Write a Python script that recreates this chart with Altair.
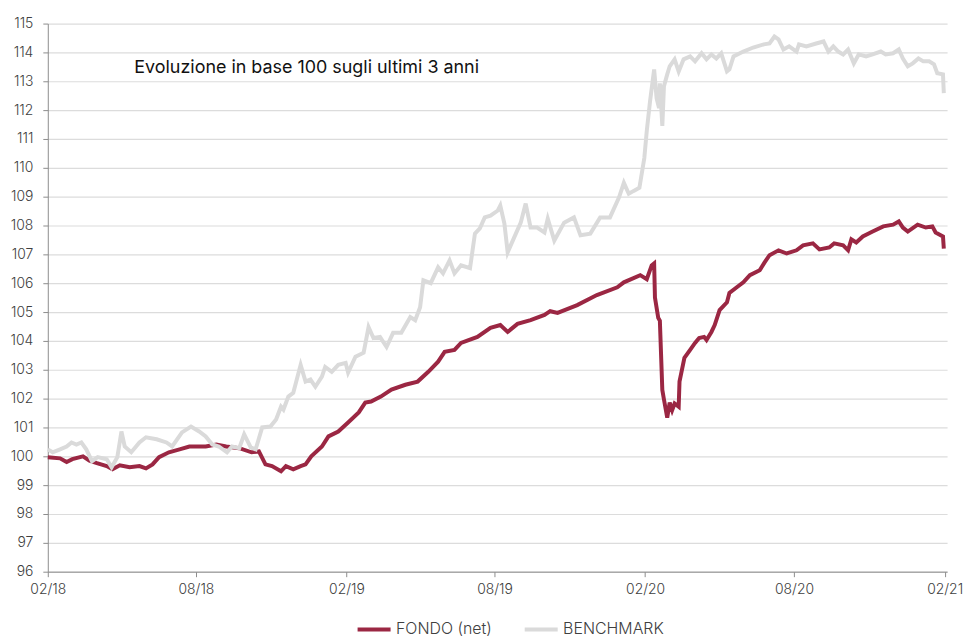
import altair as alt
import pandas as pd

FONDO = "FONDO (net)"
BENCH = "BENCHMARK"

fondo_dates = [
    "2018-02-01", "2018-02-16", "2018-02-24", "2018-03-03", "2018-03-16", "2018-03-24",
    "2018-04-02", "2018-04-14", "2018-04-21", "2018-04-30", "2018-05-12", "2018-05-24",
    "2018-06-01", "2018-06-09", "2018-06-17", "2018-06-29", "2018-07-12", "2018-07-24",
    "2018-08-13", "2018-08-26", "2018-09-07", "2018-09-23", "2018-10-08", "2018-10-17",
    "2018-10-25", "2018-11-02", "2018-11-13", "2018-11-19", "2018-11-28", "2018-12-07",
    "2018-12-13", "2018-12-20", "2019-01-02", "2019-01-10", "2019-01-22", "2019-02-03",
    "2019-02-16", "2019-02-24", "2019-03-03", "2019-03-15", "2019-03-28", "2019-04-14",
    "2019-04-29", "2019-05-12", "2019-05-24", "2019-06-01", "2019-06-13", "2019-06-21",
    "2019-07-11", "2019-07-27", "2019-08-08", "2019-08-17", "2019-08-29", "2019-09-14",
    "2019-10-01", "2019-10-08", "2019-10-17", "2019-11-10", "2019-12-04", "2019-12-29",
    "2020-01-06", "2020-01-26", "2020-02-03", "2020-02-09", "2020-02-12", "2020-02-13",
    "2020-02-17", "2020-02-19", "2020-02-22", "2020-02-24", "2020-02-28", "2020-03-02",
    "2020-03-05", "2020-03-08", "2020-03-13", "2020-03-14", "2020-03-20", "2020-03-27",
    "2020-04-02", "2020-04-07", "2020-04-13", "2020-04-16", "2020-04-22", "2020-04-26",
    "2020-05-02", "2020-05-11", "2020-05-14", "2020-05-23", "2020-05-31", "2020-06-08",
    "2020-06-20", "2020-06-26", "2020-07-02", "2020-07-13", "2020-07-23", "2020-08-04",
    "2020-08-12", "2020-08-24", "2020-09-01", "2020-09-13", "2020-09-19", "2020-09-30",
    "2020-10-06", "2020-10-10", "2020-10-16", "2020-10-24", "2020-11-05", "2020-11-18",
    "2020-11-30", "2020-12-07", "2020-12-12", "2020-12-18", "2020-12-30", "2021-01-09",
    "2021-01-17", "2021-01-21", "2021-01-30", "2021-01-31",
]
fondo_values = [
    99.97, 99.93, 99.80, 99.90, 100.00, 99.85,
    99.76, 99.66, 99.55, 99.69, 99.62, 99.66,
    99.58, 99.72, 99.97, 100.14, 100.24, 100.34,
    100.34, 100.41, 100.34, 100.28, 100.14, 100.17,
    99.72, 99.66, 99.48, 99.66, 99.55, 99.66,
    99.72, 100.00, 100.34, 100.69, 100.86, 101.17,
    101.52, 101.86, 101.90, 102.07, 102.31, 102.48,
    102.59, 102.93, 103.28, 103.62, 103.69, 103.93,
    104.14, 104.45, 104.55, 104.31, 104.59, 104.72,
    104.90, 105.03, 104.97, 105.24, 105.59, 105.86,
    106.03, 106.28, 106.14, 106.62, 106.69, 105.50,
    104.80, 104.70, 102.30, 101.97, 101.34, 101.86,
    101.60, 101.83, 101.72, 102.59, 103.41, 103.69,
    103.93, 104.10, 104.14, 104.03, 104.31, 104.55,
    105.07, 105.34, 105.66, 105.86, 106.03, 106.28,
    106.45, 106.72, 106.97, 107.14, 107.03, 107.14,
    107.31, 107.38, 107.17, 107.24, 107.38, 107.31,
    107.14, 107.52, 107.41, 107.62, 107.79, 107.97,
    108.03, 108.14, 107.93, 107.79, 108.03, 107.93,
    107.97, 107.76, 107.62, 107.20,
]

bench_dates = [
    "2018-02-01", "2018-02-07", "2018-02-16", "2018-02-24", "2018-03-02", "2018-03-08",
    "2018-03-14", "2018-03-20", "2018-03-27", "2018-04-03", "2018-04-14", "2018-04-20",
    "2018-04-27", "2018-05-02", "2018-05-06", "2018-05-14", "2018-05-24", "2018-06-01",
    "2018-06-14", "2018-06-26", "2018-07-03", "2018-07-15", "2018-07-26", "2018-08-05",
    "2018-08-13", "2018-08-21", "2018-08-29", "2018-09-08", "2018-09-14", "2018-09-23",
    "2018-09-29", "2018-10-07", "2018-10-13", "2018-10-21", "2018-10-31", "2018-11-07",
    "2018-11-13", "2018-11-16", "2018-11-22", "2018-11-28", "2018-12-07", "2018-12-13",
    "2018-12-19", "2018-12-25", "2019-01-02", "2019-01-06", "2019-01-14", "2019-01-22",
    "2019-01-31", "2019-02-03", "2019-02-12", "2019-02-22", "2019-02-28", "2019-03-06",
    "2019-03-14", "2019-03-22", "2019-03-30", "2019-04-09", "2019-04-20", "2019-04-26",
    "2019-05-02", "2019-05-06", "2019-05-15", "2019-05-24", "2019-05-30", "2019-06-07",
    "2019-06-13", "2019-06-21", "2019-07-02", "2019-07-08", "2019-07-14", "2019-07-20",
    "2019-07-27", "2019-08-05", "2019-08-08", "2019-08-13", "2019-08-17", "2019-08-25",
    "2019-09-02", "2019-09-08", "2019-09-14", "2019-09-22", "2019-10-01", "2019-10-05",
    "2019-10-13", "2019-10-25", "2019-11-06", "2019-11-14", "2019-11-26", "2019-12-08",
    "2019-12-20", "2019-12-31", "2020-01-06", "2020-01-12", "2020-01-18", "2020-01-25",
    "2020-01-31", "2020-02-03", "2020-02-07", "2020-02-12", "2020-02-15", "2020-02-18",
    "2020-02-19", "2020-02-22", "2020-02-24", "2020-02-28", "2020-03-02", "2020-03-08",
    "2020-03-13", "2020-03-19", "2020-03-27", "2020-04-02", "2020-04-10", "2020-04-16",
    "2020-04-22", "2020-04-28", "2020-05-04", "2020-05-11", "2020-05-14", "2020-05-19",
    "2020-05-31", "2020-06-12", "2020-06-25", "2020-07-02", "2020-07-08", "2020-07-13",
    "2020-07-19", "2020-07-26", "2020-08-04", "2020-08-07", "2020-08-16", "2020-08-28",
    "2020-09-06", "2020-09-12", "2020-09-18", "2020-09-24", "2020-09-30", "2020-10-06",
    "2020-10-13", "2020-10-19", "2020-10-28", "2020-11-05", "2020-11-15", "2020-11-21",
    "2020-11-30", "2020-12-07", "2020-12-12", "2020-12-18", "2020-12-24", "2020-12-31",
    "2021-01-06", "2021-01-13", "2021-01-19", "2021-01-23", "2021-01-30", "2021-01-31",
]
bench_values = [
    100.24, 100.14, 100.24, 100.34, 100.48, 100.41,
    100.48, 100.24, 99.83, 99.97, 99.90, 99.62,
    99.97, 100.86, 100.34, 100.14, 100.48, 100.66,
    100.59, 100.48, 100.34, 100.83, 101.03, 100.86,
    100.69, 100.41, 100.34, 100.14, 100.34, 100.28,
    100.76, 100.31, 100.24, 101.00, 101.03, 101.28,
    101.72, 101.62, 102.07, 102.20, 103.17, 102.59,
    102.66, 102.41, 102.76, 103.10, 102.93, 103.17,
    103.24, 102.90, 103.45, 103.59, 104.48, 104.10,
    104.14, 103.79, 104.28, 104.28, 104.83, 104.72,
    105.17, 106.10, 106.00, 106.55, 106.34, 106.79,
    106.34, 106.62, 106.52, 107.72, 107.90, 108.28,
    108.34, 108.52, 108.69, 108.07, 107.07, 107.59,
    108.10, 108.76, 107.93, 107.93, 107.76, 108.24,
    107.48, 108.10, 108.28, 107.66, 107.72, 108.28,
    108.28, 108.97, 109.48, 109.10, 109.20, 109.31,
    110.34, 111.28, 112.31, 113.41, 112.41, 112.07,
    112.93, 111.45, 112.83, 113.24, 113.52, 113.76,
    113.34, 113.76, 113.86, 113.69, 113.97, 113.76,
    113.93, 113.79, 113.97, 113.34, 113.41, 113.86,
    114.03, 114.17, 114.28, 114.31, 114.55, 114.45,
    114.10, 114.21, 114.03, 114.28, 114.21, 114.31,
    114.38, 114.03, 114.21, 114.03, 113.93, 114.10,
    113.62, 113.93, 113.86, 113.93, 114.03, 113.93,
    113.97, 114.10, 113.79, 113.52, 113.62, 113.79,
    113.69, 113.69, 113.59, 113.28, 113.24, 112.59,
]

y_ticks = list(range(96, 116))
x_ticks = ["2018-02-01", "2018-08-01", "2019-02-01", "2019-08-01",
           "2020-02-01", "2020-08-01", "2021-02-01"]
title_text = "Evoluzione in base 100 sugli ultimi 3 anni"

df = pd.concat([
    pd.DataFrame({"date": fondo_dates, "value": fondo_values, "series": FONDO}),
    pd.DataFrame({"date": bench_dates, "value": bench_values, "series": BENCH}),
])

FONT = "Inter"
AXIS_COLOR = "#404040"

x_enc = alt.X(
    "date:T",
    title=None,
    scale=alt.Scale(type="utc", domain=[
        alt.DateTime(year=2018, month=2, date=1, utc=True),
        alt.DateTime(year=2021, month=2, date=4, utc=True)]),
    axis=alt.Axis(
        values=[alt.DateTime(year=int(d[:4]), month=int(d[5:7]), date=1, utc=True) for d in x_ticks],
        format="%m/%y", grid=False, domainColor="#8c8c8c", tickColor="#8c8c8c",
        tickSize=5, labelPadding=6, labelFontSize=14, labelColor=AXIS_COLOR,
        labelFont=FONT, labelFontWeight=300, labelFlush=False, labelOverlap=False,
    ),
)
y_enc = alt.Y(
    "value:Q",
    title=None,
    scale=alt.Scale(domain=[96, 115], nice=False, zero=False),
    axis=alt.Axis(
        values=y_ticks, grid=True, gridColor="#dcdcdc", gridWidth=1.2,
        domainColor="#8c8c8c", tickColor="#8c8c8c", tickSize=5, labelPadding=10,
        labelFontSize=14, labelColor=AXIS_COLOR, labelFont=FONT, labelFontWeight=300,
        labelOverlap=False,
    ),
)
color_enc = alt.Color(
    "series:N",
    scale=alt.Scale(domain=[FONDO, BENCH], range=["#9b2743", "#dadada"]),
    legend=alt.Legend(
        title=None, orient="none", direction="horizontal", legendX=309, legendY=590,
        symbolType="stroke", symbolStrokeWidth=4, symbolSize=1100,
        labelFontSize=16, labelFont=FONT, labelColor=AXIS_COLOR, labelFontWeight=300,
        columnPadding=24, labelOffset=3,
    ),
)

base = alt.Chart(df).encode(x=x_enc, y=y_enc, color=color_enc)
fondo_line = base.transform_filter(alt.datum.series == FONDO).mark_line(strokeWidth=4)
bench_line = base.transform_filter(alt.datum.series == BENCH).mark_line(strokeWidth=4)

title = alt.Chart(pd.DataFrame({"t": [title_text]})).mark_text(
    align="left", baseline="middle", fontSize=18, font=FONT, color="#111111"
).encode(text="t:N", x=alt.value(87), y=alt.value(45))

chart = alt.layer(fondo_line, bench_line, title).properties(
    width=904, height=551,
    autosize=alt.AutoSizeParams(type="none"),
    padding={"left": 40, "top": 14, "right": 16, "bottom": 66},
).configure_view(stroke=None)

chart.save("out.html", embed_options={"renderer": "svg", "actions": False})
